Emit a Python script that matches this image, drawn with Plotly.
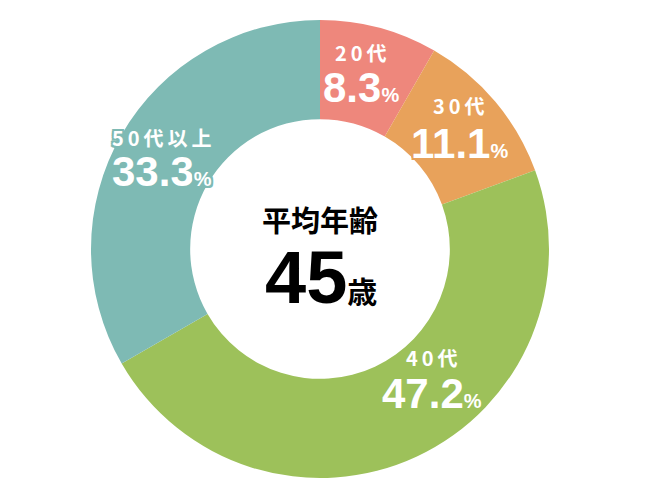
import plotly.graph_objects as go

# 年代別の構成比 (%)
age_groups = ['20代', '30代', '40代', '50代以上']
shares = [8.3, 11.1, 47.2, 33.3]
colors = ['#EE877C', '#E8A25B', '#9DC15A', '#7EBAB4']
avg_age = 45

W, H = 650, 500
OFF = 8  # page body margin in the browser

def px_x(x):
    return (x - OFF) / W

def px_y(y):
    return 1 - (y - OFF) / H

def outline(color, w=2):
    offs = [(w, 0), (-w, 0), (0, w), (0, -w), (w, w), (-w, -w), (w, -w), (-w, w)]
    return ', '.join(f'{color} {dx}px {dy}px 0px' for dx, dy in offs)

fig = go.Figure()
fig.add_trace(go.Pie(
    labels=age_groups,
    values=shares,
    sort=False,
    direction='clockwise',
    rotation=0,
    hole=0.567,
    marker={'colors': colors, 'line': {'width': 0}},
    textinfo='none',
    hoverinfo='label+percent',
    domain={'x': [px_x(91), px_x(549)], 'y': [px_y(478), px_y(20)]},
    showlegend=False,
))

# label placement (pixel centres / left edges) for each slice
label_pos = [
    # (x, anchor, y_name, y_pct)
    (361, 'center', 53, 87),
    (459, 'center', 106, 143),
    (432, 'center', 357, 393),
    (110, 'left', 137, 171),
]

name_font = 'Noto Sans CJK JP'
num_font = 'Liberation Sans, Arial, sans-serif'

for cat, val, col, (x, anchor, yn, yp) in zip(age_groups, shares, colors, label_pos):
    spaced = '\u2009'.join(cat)
    fig.add_annotation(
        x=px_x(x), y=px_y(yn), xref='paper', yref='paper',
        xanchor=anchor, yanchor='middle', showarrow=False,
        text=f'<b>{spaced}</b>',
        font={'family': name_font, 'size': 20, 'color': 'white', 'shadow': outline(col)},
    )
    fig.add_annotation(
        x=px_x(x), y=px_y(yp), xref='paper', yref='paper',
        xanchor=anchor, yanchor='middle', showarrow=False,
        text=f'<b>{val}</b><span style="font-size:20px"><b>%</b></span>',
        font={'family': num_font, 'size': 42, 'color': 'white', 'shadow': outline(col)},
    )

# centre text
fig.add_annotation(
    x=px_x(320), y=px_y(219), xref='paper', yref='paper',
    showarrow=False, text='<b>平均年齢</b>',
    font={'family': name_font, 'size': 29, 'color': 'black'},
)
fig.add_annotation(
    x=px_x(321), y=px_y(277), xref='paper', yref='paper',
    showarrow=False,
    text=(f'<b>{avg_age}</b>'
          f'<span style="font-family:{name_font};font-size:30px"><b>歳</b></span>'),
    font={'family': num_font, 'size': 74, 'color': 'black'},
)

fig.update_layout(
    width=W, height=H,
    margin={'l': 0, 'r': 0, 't': 0, 'b': 0},
    paper_bgcolor='white',
    plot_bgcolor='white',
)

fig.write_html('out.html')
